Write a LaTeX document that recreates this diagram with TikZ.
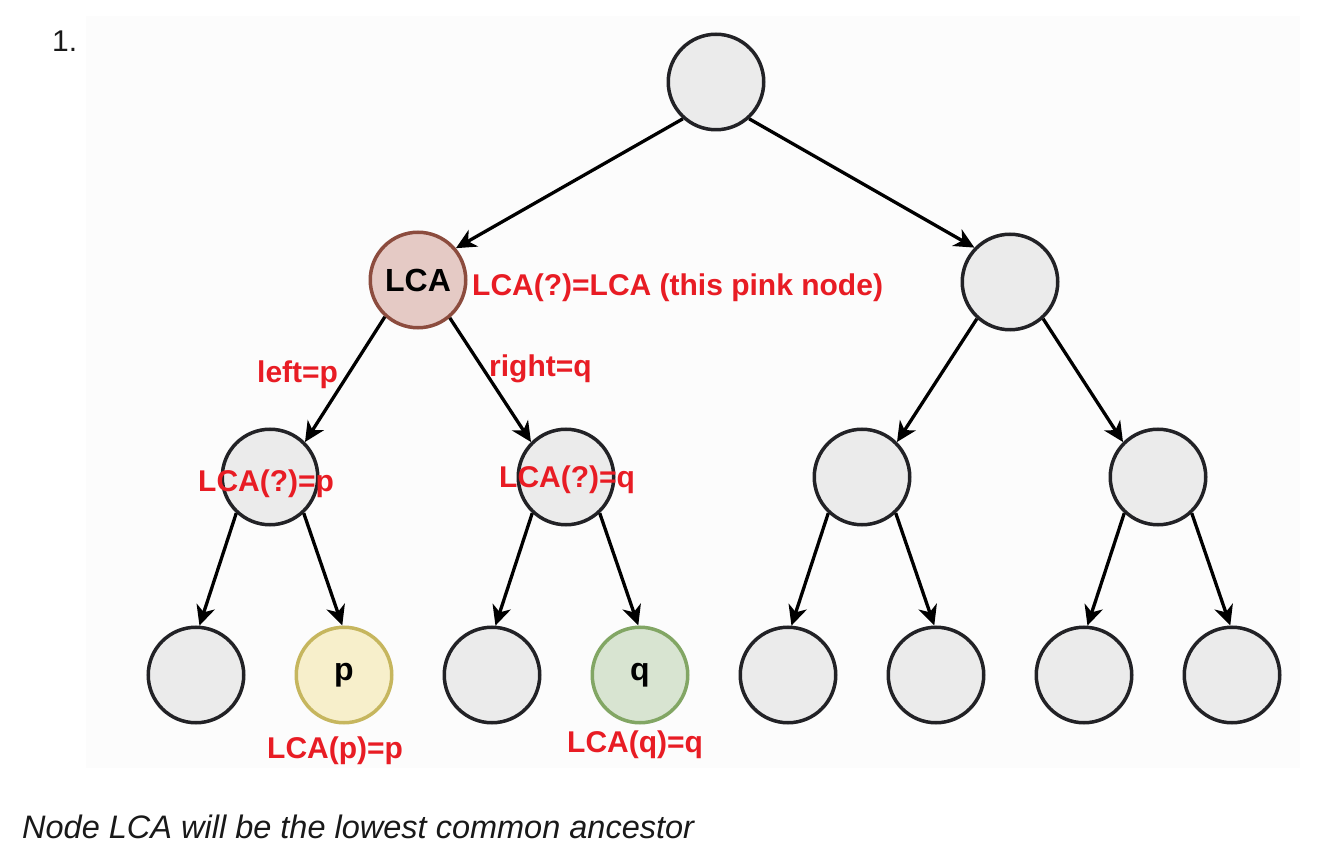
\documentclass[tikz,border=0pt]{standalone}
\usepackage{fontspec}
\setmainfont{Liberation Sans}
\usetikzlibrary{arrows.meta}
\definecolor{nodefill}{RGB}{235,235,235}
\definecolor{nodeline}{RGB}{34,34,38}
\definecolor{lcafill}{RGB}{229,202,197}
\definecolor{lcaline}{RGB}{140,76,62}
\definecolor{pfill}{RGB}{247,239,203}
\definecolor{pline}{RGB}{198,182,94}
\definecolor{qfill}{RGB}{216,228,209}
\definecolor{qline}{RGB}{130,166,100}
\definecolor{lblred}{RGB}{232,28,36}
\definecolor{bgpanel}{RGB}{252,252,252}
\begin{document}
\begin{tikzpicture}[x=1pt,y=-1pt,
  tnode/.style={circle,minimum size=95.5pt,inner sep=0pt,line width=3.5pt,draw=nodeline,fill=nodefill,font=\bfseries\fontsize{32}{34}\selectfont},
  lcanode/.style={tnode,draw=lcaline,fill=lcafill},
  pnode/.style={tnode,draw=pline,fill=pfill},
  qnode/.style={tnode,draw=qline,fill=qfill},
  edge/.style={-{Stealth[length=20pt,width=19pt,inset=6pt]},line width=3.3pt,draw=black},
  lbl/.style={text=lblred,font=\bfseries\fontsize{30}{32}\selectfont,inner sep=0pt,anchor=base west},
  plain/.style={inner sep=0pt,anchor=base west,text=black!90}
]
\useasboundingbox (0,0) rectangle (1318,858);
\fill[bgpanel] (86,16) rectangle (1300,768);

% tree nodes
\node[tnode] (root) at (716,82) {};
\node[lcanode] (lca) at (418,280) {LCA};
\node[tnode] (r1) at (1010,282) {};
\node[tnode] (l2a) at (270,477) {};
\node[tnode] (l2b) at (566,477) {};
\node[tnode] (l2c) at (862,477) {};
\node[tnode] (l2d) at (1158,477) {};
\node[tnode] (l3a) at (196,675) {};
\node[pnode] (l3b) at (344,675) {p};
\node[tnode] (l3c) at (492,675) {};
\node[qnode] (l3d) at (640,675) {q};
\node[tnode] (l3e) at (788,675) {};
\node[tnode] (l3f) at (936,675) {};
\node[tnode] (l3g) at (1084,675) {};
\node[tnode] (l3h) at (1232,675) {};

% edges
\draw[edge] (root.-132) -- (lca.40);
\draw[edge] (root.-48) -- (r1.136);
\draw[edge] (lca.-132) -- (l2a.45);
\draw[edge] (lca.-50) -- (l2b.135);
\draw[edge] (r1.-132) -- (l2c.45);
\draw[edge] (r1.-48) -- (l2d.135);
\draw[edge] (l2a.-133) -- (l3a.86);
\draw[edge] (l2a.-47) -- (l3b.92);
\draw[edge] (l2b.-133) -- (l3c.86);
\draw[edge] (l2b.-47) -- (l3d.92);
\draw[edge] (l2c.-133) -- (l3e.86);
\draw[edge] (l2c.-47) -- (l3f.92);
\draw[edge] (l2d.-133) -- (l3g.86);
\draw[edge] (l2d.-47) -- (l3h.92);

% labels
\node[lbl] (t1) at (472,296) {LCA(?)=LCA (this pink node)};
\node[lbl] (t2) at (257,383) {left=p};
\node[lbl] (t3) at (489,377) {right=q};
\node[lbl] (t4) at (198,492) {LCA(?)=p};
\node[lbl] (t5) at (499,488) {LCA(?)=q};
\node[lbl] (t6) at (267,758) {LCA(p)=p};
\node[lbl] (t7) at (567,752) {LCA(q)=q};

\node[plain,font=\fontsize{30}{32}\selectfont] (num) at (52,52) {1.};
\node[plain,font=\itshape\fontsize{32.5}{34}\selectfont] (cap) at (22,838) {Node LCA will be the lowest common ancestor};
\end{tikzpicture}
\end{document}
